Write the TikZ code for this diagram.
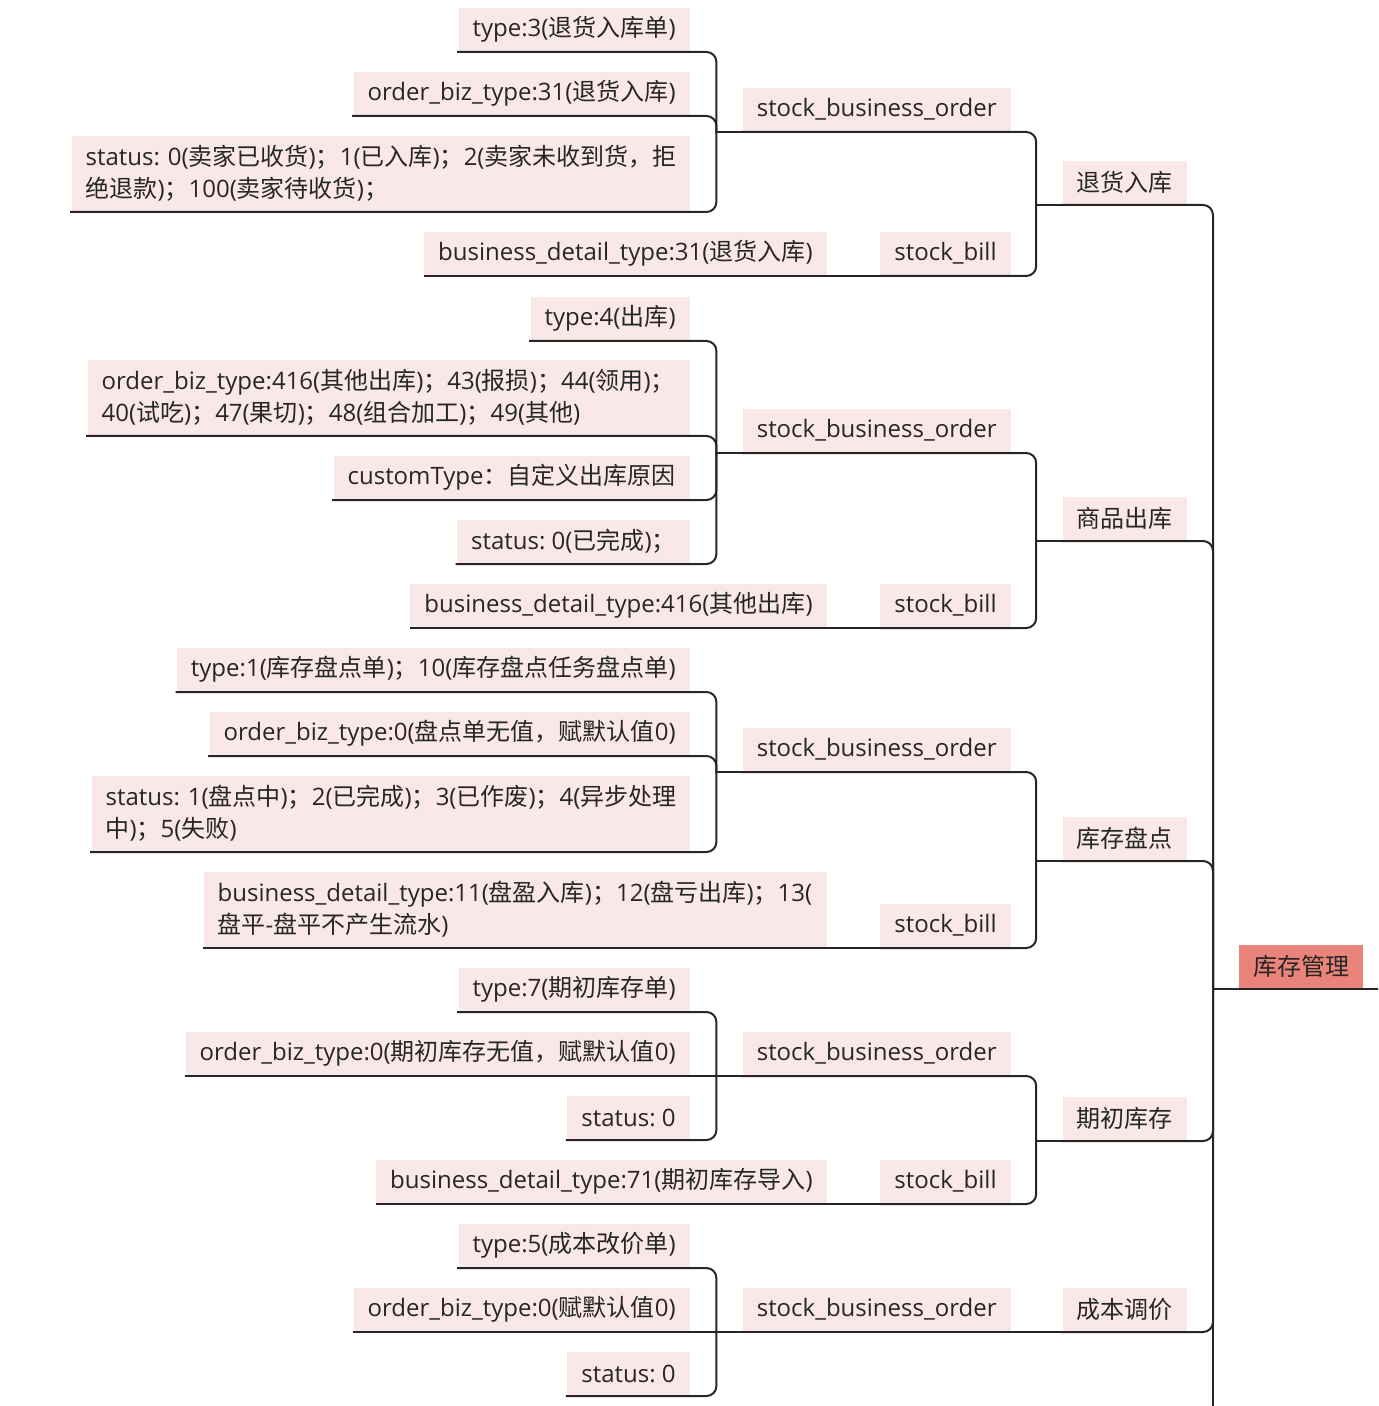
\documentclass[tikz,border=0pt]{standalone}
\usepackage{fontspec}
\setmainfont{Open Sans}
\newfontfamily\zhfont{Noto Sans CJK SC}
\frenchspacing
% CJK characters switch to \zhfont on their own
\XeTeXinterchartokenstate=1
\newXeTeXintercharclass\zhclass
\newcount\zhcount
\newcommand\zhrange[2]{%
  \zhcount=#1\relax
  \loop
    \XeTeXcharclass\zhcount=\zhclass
    \advance\zhcount by 1
  \ifnum\zhcount<#2\relax\repeat}
\zhrange{"3000}{"3040}
\zhrange{"4E00}{"A000}
\zhrange{"FF00}{"FFF0}
\XeTeXinterchartoks 0 \zhclass = {\begingroup\zhfont}
\XeTeXinterchartoks 4095 \zhclass = {\begingroup\zhfont}
\XeTeXinterchartoks \zhclass 0 = {\endgroup}
\XeTeXinterchartoks \zhclass 4095 = {\endgroup}

\definecolor{topicpink}{HTML}{FAE8E9}
\definecolor{rootred}{HTML}{EA8379}
\definecolor{linegray}{HTML}{262626}

\tikzset{
  leaf/.style={fill=topicpink, anchor=south east, inner xsep=7pt, inner ysep=0pt,
    minimum height=22pt, text=linegray, font=\fontsize{12pt}{16pt}\selectfont},
  twoline/.style={leaf, text width=#1, align=left, minimum height=38pt},
  rootbox/.style={leaf, fill=rootred, anchor=south west},
  link/.style={line width=1pt, draw=linegray},
  elbow/.style={link, rounded corners=5pt, line cap=rect}
}
% child -> parent: rounded at the child, plain T at the parent
\newcommand\branch[2]{%
  \draw[elbow] (#1.south west) -- (#1.south east) -| ([xshift=-13pt]#2.south west);
  \draw[link] ([xshift=-13pt]#2.south west) -- (#2.south west);}
\newcommand\straight[2]{\draw[link] (#1.south west) -- (#2.south west);}

\begin{document}
\begin{tikzpicture}[x=0.5pt,y=-0.5pt]
  \useasboundingbox (0,0) rectangle (1378,1406);

  % root and main topics
  \node[rootbox] (root) at (1239,989) {库存管理};
  \node[leaf] (ret) at (1187,205) {退货入库};
  \node[leaf] (out) at (1187,541) {商品出库};
  \node[leaf] (chk) at (1187,861) {库存盘点};
  \node[leaf] (ini) at (1187,1141) {期初库存};
  \node[leaf] (cost) at (1187,1332) {成本调价};
  \coordinate (rootout) at (1378,989);
  \coordinate (rootend) at (1213,1406);

  % 退货入库
  \node[leaf] (ret-sbo) at (1011,132) {stock\_business\_order};
  \node[leaf] (ret-sb) at (1011,276) {stock\_bill};
  \node[leaf] (ret-type) at (690,52) {type:3(退货入库单)};
  \node[leaf] (ret-biz) at (690,116) {order\_biz\_type:31(退货入库)};
  \node[twoline=295pt] (ret-status) at (690,212) {status: 0(卖家已收货)；1(已入库)；2(卖家未收到货，拒\\绝退款)；100(卖家待收货)；};
  \node[leaf] (ret-bdt) at (827,276) {business\_detail\_type:31(退货入库)};

  % 商品出库
  \node[leaf] (out-sbo) at (1011,453) {stock\_business\_order};
  \node[leaf] (out-sb) at (1011,628) {stock\_bill};
  \node[leaf] (out-type) at (690,341) {type:4(出库)};
  \node[twoline=287pt] (out-biz) at (690,436) {order\_biz\_type:416(其他出库)；43(报损)；44(领用)；\\40(试吃)；47(果切)；48(组合加工)；49(其他)};
  \node[leaf] (out-custom) at (690,500) {customType：自定义出库原因};
  \node[leaf] (out-status) at (690,564) {status: 0(已完成)；};
  \node[leaf] (out-bdt) at (827,628) {business\_detail\_type:416(其他出库)};

  % 库存盘点
  \node[leaf] (chk-sbo) at (1011,772) {stock\_business\_order};
  \node[leaf] (chk-sb) at (1011,948) {stock\_bill};
  \node[leaf] (chk-type) at (690,692) {type:1(库存盘点单)；10(库存盘点任务盘点单)};
  \node[leaf] (chk-biz) at (690,756) {order\_biz\_type:0(盘点单无值，赋默认值0)};
  \node[twoline=285pt] (chk-status) at (690,852) {status: 1(盘点中)；2(已完成)；3(已作废)；4(异步处理\\中)；5(失败)};
  \node[twoline=297.5pt] (chk-bdt) at (827,948) {business\_detail\_type:11(盘盈入库)；12(盘亏出库)；13(\\盘平-盘平不产生流水)};

  % 期初库存
  \node[leaf] (ini-sbo) at (1011,1076) {stock\_business\_order};
  \node[leaf] (ini-sb) at (1011,1204) {stock\_bill};
  \node[leaf] (ini-type) at (690,1012) {type:7(期初库存单)};
  \node[leaf] (ini-biz) at (690,1076) {order\_biz\_type:0(期初库存无值，赋默认值0)};
  \node[leaf] (ini-status) at (690,1140) {status: 0};
  \node[leaf] (ini-bdt) at (827,1204) {business\_detail\_type:71(期初库存导入)};

  % 成本调价
  \node[leaf] (cost-sbo) at (1011,1332) {stock\_business\_order};
  \node[leaf] (cost-type) at (690,1268) {type:5(成本改价单)};
  \node[leaf] (cost-biz) at (690,1332) {order\_biz\_type:0(赋默认值0)};
  \node[leaf] (cost-status) at (690,1396) {status: 0};

  % connectors
  \draw[link] (root.south west) -- (rootout);
  \draw[link] ([xshift=-13pt]root.south west) -- (rootend);
  \branch{ret}{root}
  \branch{out}{root}
  \branch{chk}{root}
  \branch{ini}{root}
  \branch{cost}{root}

  \branch{ret-sbo}{ret}
  \branch{ret-sb}{ret}
  \branch{ret-type}{ret-sbo}
  \branch{ret-biz}{ret-sbo}
  \branch{ret-status}{ret-sbo}
  \straight{ret-bdt}{ret-sb}

  \branch{out-sbo}{out}
  \branch{out-sb}{out}
  \branch{out-type}{out-sbo}
  \branch{out-biz}{out-sbo}
  \branch{out-custom}{out-sbo}
  \branch{out-status}{out-sbo}
  \straight{out-bdt}{out-sb}

  \branch{chk-sbo}{chk}
  \branch{chk-sb}{chk}
  \branch{chk-type}{chk-sbo}
  \branch{chk-biz}{chk-sbo}
  \branch{chk-status}{chk-sbo}
  \straight{chk-bdt}{chk-sb}

  \branch{ini-sbo}{ini}
  \branch{ini-sb}{ini}
  \branch{ini-type}{ini-sbo}
  \straight{ini-biz}{ini-sbo}
  \branch{ini-status}{ini-sbo}
  \straight{ini-bdt}{ini-sb}

  \straight{cost-sbo}{cost}
  \branch{cost-type}{cost-sbo}
  \straight{cost-biz}{cost-sbo}
  \branch{cost-status}{cost-sbo}
\end{tikzpicture}
\end{document}
